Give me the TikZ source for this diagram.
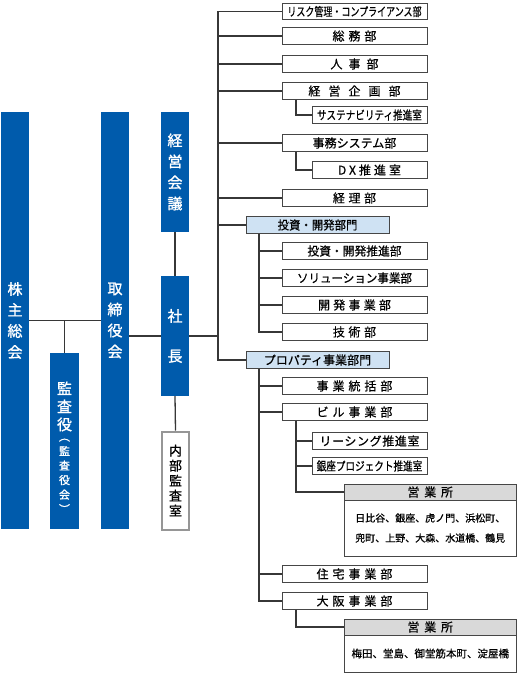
\documentclass[tikz,border=0pt]{standalone}
\usepackage{fontspec}
\usepackage{graphicx}
\newfontfamily\jp[FakeBold=0.6]{Noto Sans CJK JP}
\newfontfamily\jpv[FakeBold=1.2]{Noto Sans CJK JP}
\definecolor{barblue}{RGB}{0,91,172}
\definecolor{lineC}{RGB}{55,55,55}
\definecolor{boxline}{RGB}{70,70,70}
\definecolor{lblue}{RGB}{207,226,243}
\definecolor{hgray}{RGB}{217,217,217}
\definecolor{agray}{RGB}{150,150,150}
\newcommand{\lsp}[2]{{\addfontfeature{LetterSpace=#1}#2}}
\newcommand{\cnd}[2]{\scalebox{#1}[1]{#2}}
\begin{document}
\begin{tikzpicture}[x=1pt,y=-1pt,
  bar/.style={fill=barblue, draw=none, minimum width=28, inner sep=0, text=white, align=center},
  vtext/.style={text=white, align=center, inner sep=0},
  dept/.style={draw=boxline, line width=0.9pt, fill=white, minimum width=145, minimum height=16.5, inner sep=0, font=\jp\fontsize{12}{14}\selectfont},
  subdept/.style={dept, minimum width=115},
  divbox/.style={dept, fill=lblue, minimum width=143},
  ehead/.style={dept, fill=hgray, minimum width=171.5, minimum height=16},
  ebody/.style={dept, minimum width=171.5, align=center, font=\jp\fontsize{10}{20}\selectfont},
  conn/.style={draw=lineC, line width=1.3pt},
]
\useasboundingbox (0,0) rectangle (517,673);

% blue bars
\node[bar, minimum height=417, font=\jpv\fontsize{15}{21}\selectfont] (kabu) at (15,320.5) {株\\主\\総\\会};
\node[bar, minimum height=417, font=\jpv\fontsize{15}{21}\selectfont] (tori) at (115,320.5) {取\\締\\役\\会};
\node[bar, minimum width=29, minimum height=176] (kansa) at (64.5,441) {};
\node[vtext, font=\jpv\fontsize{15}{18}\selectfont] (kansaA) at (64.5,406.5) {監\\査\\役};
\node[vtext, font=\jpv\fontsize{11}{14.5}\selectfont] (kansaB) at (64.5,476) {︵\\監\\査\\役\\会\\︶};
\node[bar, minimum height=120, font=\jpv\fontsize{15}{21}\selectfont] (kaigi) at (175,172) {経\\営\\会\\議};
\node[bar, minimum height=120, font=\jpv\fontsize{15}{40}\selectfont] (shachou) at (175,336) {社\\長};
\node[draw=agray, line width=2pt, fill=white, minimum width=27, minimum height=98, inner sep=0, align=center, font=\jp\fontsize{13}{15}\selectfont] (naibu) at (175.5,480.5) {内\\部\\監\\査\\室};

% departments
\node[dept] (risk) at (354.5,11.5) {\cnd{0.75}{リスク管理・コンプライアンス部}};
\node[dept] (soumu) at (354.5,36) {\lsp{33}{総務部}};
\node[dept] (jinji) at (354.5,64) {\lsp{50}{人事部}};
\node[dept] (keiei) at (354.5,91) {\lsp{67}{経営企画部}};
\node[subdept] (sustain) at (369.5,115) {\cnd{0.8}{サステナビリティ推進室}};
\node[dept] (jimu) at (354.5,143) {事務システム部};
\node[subdept] (dx) at (369.5,170) {\lsp{25}{DX推進室}};
\node[dept] (keiri) at (354.5,198) {\lsp{30}{経理部}};
\node[divbox] (toushi) at (317.5,225) {\cnd{0.95}{投資・開発部門}};
\node[dept] (suishin) at (354.5,251) {\cnd{0.98}{投資・開発推進部}};
\node[dept] (solution) at (354.5,278) {\cnd{0.96}{ソリューション事業部}};
\node[dept] (kaihatsu) at (354.5,305) {\lsp{27}{開発事業部}};
\node[dept] (gijutsu) at (354.5,332) {\lsp{30}{技術部}};
\node[divbox] (prop) at (317.5,360) {プロパティ事業部門};
\node[dept] (toukatsu) at (354.5,386) {\lsp{33}{事業統括部}};
\node[dept] (biru) at (354.5,412) {\lsp{33}{ビル事業部}};
\node[subdept] (leasing) at (369.5,441) {\lsp{5}{リーシング推進室}};
\node[subdept] (ginza) at (369.5,466) {\cnd{0.8}{銀座プロジェクト推進室}};
\node[ehead] (hA) at (430.25,492) {\lsp{40}{営業所}};
\node[ebody, minimum height=56] (bA) at (430.25,528) {日比谷、銀座、虎ノ門、浜松町、\\兜町、上野、大森、水道橋、鶴見};
\node[dept] (juutaku) at (354.5,574) {\lsp{33}{住宅事業部}};
\node[dept] (osaka) at (354.5,601) {\lsp{33}{大阪事業部}};
\node[ehead] (hB) at (430.25,627) {\lsp{40}{営業所}};
\node[ebody, minimum height=37, font=\jp\fontsize{10.5}{20}\selectfont] (bB) at (430.25,653.5) {梅田、堂島、御堂筋本町、淀屋橋};

% connectors left
\draw[conn] (kabu.east) -- (tori.west);
\draw[conn] (kansa.north) -- (kansa.north |- kabu.east);
\draw[conn] (tori.east |- shachou.west) -- (shachou.west);
\draw[conn] (kaigi.south) -- (shachou.north);
\draw[conn] (shachou.south) -- (naibu.north);

% main trunk
\coordinate (T) at (218,336);
\coordinate (S1) at (296,0);
\coordinate (S2) at (259,0);
\draw[conn] (shachou.east) -- (T);
\draw[conn] (risk.west) -| (T) |- (prop.west);
\foreach \n in {soumu,jinji,keiei,jimu,keiri,toushi}
  \draw[conn] (\n.west) -- (\n.west -| T);

% sub trunks
\draw[conn] (keiei.south -| S1) |- (sustain.west);
\draw[conn] (jimu.south -| S1) |- (dx.west);
\draw[conn] (toushi.south -| S2) |- (gijutsu.west);
\foreach \n in {suishin,solution,kaihatsu}
  \draw[conn] (\n.west) -- (\n.west -| S2);
\draw[conn] (prop.south -| S2) |- (osaka.west);
\foreach \n in {toukatsu,biru,juutaku}
  \draw[conn] (\n.west) -- (\n.west -| S2);
\draw[conn] (biru.south -| S1) |- (hA.west);
\foreach \n in {leasing,ginza}
  \draw[conn] (\n.west) -- (\n.west -| S1);
\draw[conn] (osaka.south -| S1) |- (hB.west);
\end{tikzpicture}
\end{document}
